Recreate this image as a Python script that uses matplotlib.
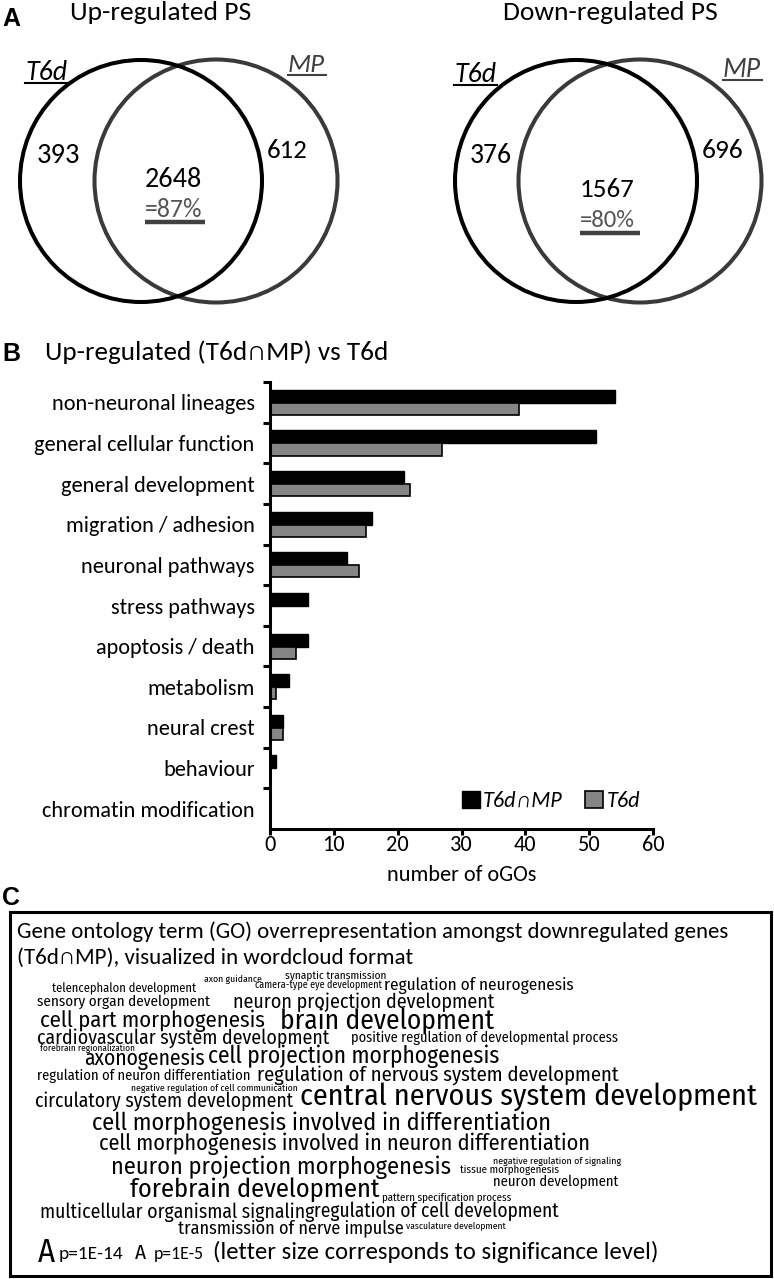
import matplotlib
matplotlib.use("Agg")
import matplotlib.pyplot as plt
from matplotlib import font_manager
from matplotlib.patches import Circle, Rectangle, Patch
from matplotlib.lines import Line2D
import numpy as np

# --- data ---
venn_titles = ["Up-regulated PS", "Down-regulated PS"]
venn_t6d_only = [393, 376]
venn_mp_only = [612, 696]
venn_both = [2648, 1567]
venn_pct = ["=87%", "=80%"]

categories = ["non-neuronal lineages", "general cellular function", "general development",
              "migration / adhesion", "neuronal pathways", "stress pathways",
              "apoptosis / death", "metabolism", "neural crest", "behaviour",
              "chromatin modification"]
n_both = [54, 51, 21, 16, 12, 6, 6, 3, 2, 1, 0]
n_t6d = [39, 27, 22, 15, 14, 0, 4, 1, 2, 0, 0]

cloud_words = ["axon guidance", "synaptic transmission", "camera-type eye development",
               "regulation of neurogenesis", "telencephalon development",
               "sensory organ development", "neuron projection development",
               "cell part morphogenesis", "brain development",
               "cardiovascular system development",
               "positive regulation of developmental process",
               "forebrain regionalization", "axonogenesis", "cell projection morphogenesis",
               "regulation of neuron differentiation",
               "regulation of nervous system development",
               "negative regulation of cell communication",
               "circulatory system development", "central nervous system development",
               "cell morphogenesis involved in differentiation",
               "cell morphogenesis involved in neuron differentiation",
               "neuron projection morphogenesis", "negative regulation of signaling",
               "tissue morphogenesis", "neuron development", "forebrain development",
               "pattern specification process", "multicellular organismal signaling",
               "regulation of cell development", "transmission of nerve impulse",
               "vasculature development"]

# --- layout (pixels in a 774x1279 canvas) ---
W, H = 774, 1279
cloud_boxes = [(204, 262, 979), (285, 386, 976), (255, 381, 985), (384, 574, 985),
               (52, 196, 989), (37, 210, 1002), (233, 495, 1002), (40, 265, 1021),
               (280, 493, 1021), (37, 329, 1038), (351, 616, 1038), (40, 134, 1048),
               (84, 205, 1059), (208, 500, 1056), (37, 250, 1076), (257, 619, 1075),
               (131, 297, 1088), (35, 292, 1101), (300, 757, 1097), (92, 550, 1123),
               (99, 589, 1144), (111, 450, 1167), (493, 621, 1161), (460, 559, 1170),
               (493, 618, 1182), (130, 380, 1190), (382, 512, 1198), (40, 314, 1212),
               (314, 557, 1211), (178, 403, 1228), (406, 505, 1226)]

MAIN = ["Carlito", "DejaVu Sans"]
plt.rcParams["font.family"] = MAIN

installed = {f.name for f in font_manager.fontManager.ttflist}
CLOUD = dict(family="DejaVu Sans", fontstretch="condensed")
for cand in ["Fira Sans Condensed", "Asap Condensed", "Archivo Narrow"]:
    if cand in installed:
        CLOUD = dict(family=cand)
        break

fig = plt.figure(figsize=(W / 100, H / 100), dpi=100)
ov = fig.add_axes([0, 0, 1, 1])
ov.set_xlim(0, W)
ov.set_ylim(H, 0)
ov.axis("off")
renderer = fig.canvas.get_renderer()


def fit(s, x0, x1, y, va="baseline", **kw):
    t = ov.text(x0, y, s, fontsize=10, ha="left", va=va, **kw)
    w = t.get_window_extent(renderer).width
    t.set_fontsize(10 * (x1 - x0) / w)
    return t


# panel letters
for letter, yc in [("A", 19), ("B", 354), ("C", 898)]:
    ov.text(2, yc, letter, fontsize=18, fontweight="bold", family="Liberation Sans",
            ha="left", va="center")

# --- panel A: Venn diagrams ---
venn_geo = [
    dict(title=(70, 252), c1=141, c2=216, t6d=(25, 67, 80, 83), mp=(288, 325, 72, 75),
         a=(37, 80, 163), b=(267, 308, 158), ab=(145, 202, 187), pct=(145, 202, 217), bar=(145, 205, 222)),
    dict(title=(503, 718), c1=576, c2=640, t6d=(454, 496, 82, 85), mp=(723, 761, 77, 80),
         a=(470, 512, 163), b=(702, 744, 158), ab=(580, 635, 197), pct=(580, 635, 227), bar=(580, 640, 233)),
]
GRAY_C = "#3a3a3a"
for i, g in enumerate(venn_geo):
    fit(venn_titles[i], g["title"][0], g["title"][1], 13, va="center")
    ov.add_patch(Circle((g["c2"], 181), 121.5, fill=False, lw=2.9, ec=GRAY_C))
    ov.add_patch(Circle((g["c1"], 181), 121, fill=False, lw=2.9, ec="black"))
    x0, x1, yb, yu = g["t6d"]
    fit("T6d", x0, x1, yb, style="italic", color="black")
    ov.add_line(Line2D([x0, x1 + 1], [yu, yu], color="black", lw=1.5))
    x0, x1, yb, yu = g["mp"]
    fit("MP", x0, x1, yb, style="italic", color="#404040")
    ov.add_line(Line2D([x0, x1 + 1], [yu, yu], color="#404040", lw=1.5))
    fit(str(venn_t6d_only[i]), g["a"][0], g["a"][1], g["a"][2])
    fit(str(venn_mp_only[i]), g["b"][0], g["b"][1], g["b"][2])
    fit(str(venn_both[i]), g["ab"][0], g["ab"][1], g["ab"][2])
    fit(venn_pct[i], g["pct"][0], g["pct"][1], g["pct"][2], color="#555555")
    x0, x1, yb = g["bar"]
    ov.add_line(Line2D([x0, x1], [yb, yb], color="#404040", lw=3.2, solid_capstyle="butt"))

# --- panel B: bar chart ---
fit("Up-regulated (T6d\u2229MP) vs T6d", 45, 388, 360)

L, R, T, B = 270, 653, 382, 829
ax = fig.add_axes([L / W, 1 - B / H, (R - L) / W, (B - T) / H])
ax.patch.set_alpha(0)
y = np.arange(len(categories))
ax.barh(y - 0.15, n_both, height=0.32, color="black", edgecolor="black", lw=1.0)
ax.barh(y + 0.16, n_t6d, height=0.3, color="#858585", edgecolor="black", lw=1.2)
ax.set_ylim(len(categories) - 0.5, -0.5)
ax.set_xlim(0, 60)
ax.set_xticks(np.arange(0, 61, 10))
ax.set_yticks(np.arange(-0.5, len(categories) - 1, 1))
ax.set_yticklabels([])
ax.set_yticks(y, minor=True)
ax.set_yticklabels(categories, minor=True, fontsize=16)
ax.tick_params(axis="y", which="major", length=5, width=2.2, direction="out")
ax.tick_params(axis="y", which="minor", length=0, pad=11)
ax.tick_params(axis="x", length=4.5, width=2.2, direction="out", labelsize=16, pad=0)
for s in ["top", "right"]:
    ax.spines[s].set_visible(False)
for s in ["left", "bottom"]:
    ax.spines[s].set_linewidth(2.2)
ax.set_xlabel("number of oGOs", fontsize=16)
ax.xaxis.set_label_coords(0.5, 1 - (875 - T) / (B - T))
ax.xaxis.label.set_va("center")
handles = [Patch(fc="black", ec="black", lw=1.0), Patch(fc="#858585", ec="black", lw=1.2)]
ax.legend(handles, ["T6d\u2229MP", "T6d"], loc="center",
          bbox_to_anchor=((551 - L) / (R - L), 1 - (801 - T) / (B - T)),
          ncol=2, frameon=False, handlelength=0.8, handleheight=0.8,
          handletextpad=0.15, columnspacing=1.0, borderpad=0,
          prop=dict(family=MAIN, style="italic", size=16))

# --- panel C: word cloud ---
ov.add_patch(Rectangle((10, 912), 761, 364, fill=False, lw=2.2, ec="black"))
fit("Gene ontology term (GO) overrepresentation amongst downregulated genes",
    17, 728, 932, va="center")
fit("(T6d\u2229MP), visualized in wordcloud format", 17, 413, 958, va="center")

for word, (x0, x1, yc) in zip(cloud_words, cloud_boxes):
    fit(word, x0, x1, yc, va="center", **CLOUD)

fit("A", 38, 55, 1262, **CLOUD)
fit("p=1E-14", 59, 124, 1259)
fit("A", 135, 146, 1259, **CLOUD)
fit("p=1E-5", 154, 204, 1259)
fit("(letter size corresponds to significance level)", 213, 658, 1259)

fig.savefig("out.png", dpi=100)
